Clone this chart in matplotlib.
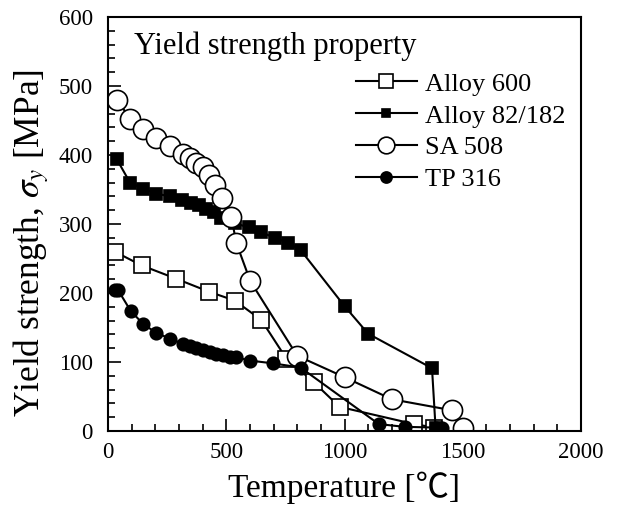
import matplotlib.pyplot as plt
from matplotlib.ticker import MultipleLocator

# Yield strength vs temperature
alloy600_t = [28, 142, 286, 426, 536, 648, 754, 869, 979, 1295, 1380]
alloy600_s = [260, 240, 221, 202, 189, 161, 105, 71, 35, 10, 5]

alloy82_t = [37, 93, 148, 205, 262, 315, 350, 385, 415, 447, 479, 537, 596,
             648, 705, 761, 815, 1000, 1100, 1370, 1385]
alloy82_s = [394, 360, 351, 344, 340, 335, 331, 327, 322, 317, 308, 301, 295,
             288, 280, 273, 262, 181, 141, 91, 5]

sa508_t = [40, 93, 150, 205, 262, 318, 346, 374, 400, 426, 452, 482, 522,
           542, 602, 800, 1000, 1200, 1455, 1500]
sa508_s = [480, 452, 437, 424, 413, 402, 395, 389, 382, 371, 357, 337, 310,
           273, 217, 109, 78, 46, 30, 4]

tp316_t = [30, 43, 96, 149, 205, 262, 318, 346, 374, 402, 430, 458, 486, 515,
           540, 602, 698, 814, 1145, 1255, 1386, 1413]
tp316_s = [204, 204, 174, 155, 142, 134, 126, 123, 120, 117, 115, 112, 110, 107,
           107, 102, 98, 92, 10, 6, 5, 4]

plt.rcParams['font.family'] = ['Liberation Serif', 'Noto Sans CJK JP']
plt.rcParams['mathtext.fontset'] = 'stix'

fig = plt.figure(figsize=(6.18, 5.15), dpi=100)
ax = fig.add_axes([108 / 618, 1 - 431 / 515, (581 - 108) / 618, (431 - 17) / 515])

line_kw = dict(color='black', lw=1.5, mec='black', mew=1.2)
ax.plot(alloy600_t, alloy600_s, marker='s', ms=12, mfc='white', label='Alloy 600', **line_kw)
ax.plot(alloy82_t, alloy82_s, marker='s', ms=8.5, mfc='black', label='Alloy 82/182', **line_kw)
ax.plot(sa508_t, sa508_s, marker='o', ms=14.5, mfc='white', label='SA 508', **line_kw)
ax.plot(tp316_t, tp316_s, marker='o', ms=9, mfc='black', label='TP 316', **line_kw)

ax.set_xlim(0, 2000)
ax.set_ylim(0, 600)
ax.xaxis.set_major_locator(MultipleLocator(500))
ax.xaxis.set_minor_locator(MultipleLocator(100))
ax.yaxis.set_major_locator(MultipleLocator(100))
ax.yaxis.set_minor_locator(MultipleLocator(20))
ax.tick_params(which='both', direction='in', labelsize=16.5, width=1.2)
ax.tick_params(which='major', length=9, pad=8)
ax.tick_params(axis='y', which='major', pad=11)
ax.tick_params(which='minor', length=5)
for sp in ax.spines.values():
    sp.set_linewidth(1.5)

ax.set_xlabel('Temperature [\u2103]', fontsize=24, labelpad=6)
ax.set_ylabel(r'Yield strength, $\sigma_y$ [MPa]', fontsize=25.5)
ax.yaxis.set_label_coords(-0.12, 0.455)

ax.text(0.055, 0.965, 'Yield strength property', transform=ax.transAxes,
        fontsize=22, va='top', ha='left')
leg = ax.legend(loc='upper right', bbox_to_anchor=(1.0, 0.905), frameon=False,
                fontsize=19, handlelength=2.3,
                handletextpad=0.3, labelspacing=0.32, borderaxespad=0.2)
# legend symbols are drawn smaller than the data markers
for h, ms in zip(leg.legend_handles, [10.5, 6, 12, 8]):
    h.set_markersize(ms)

fig.savefig('out.png', dpi=100)
